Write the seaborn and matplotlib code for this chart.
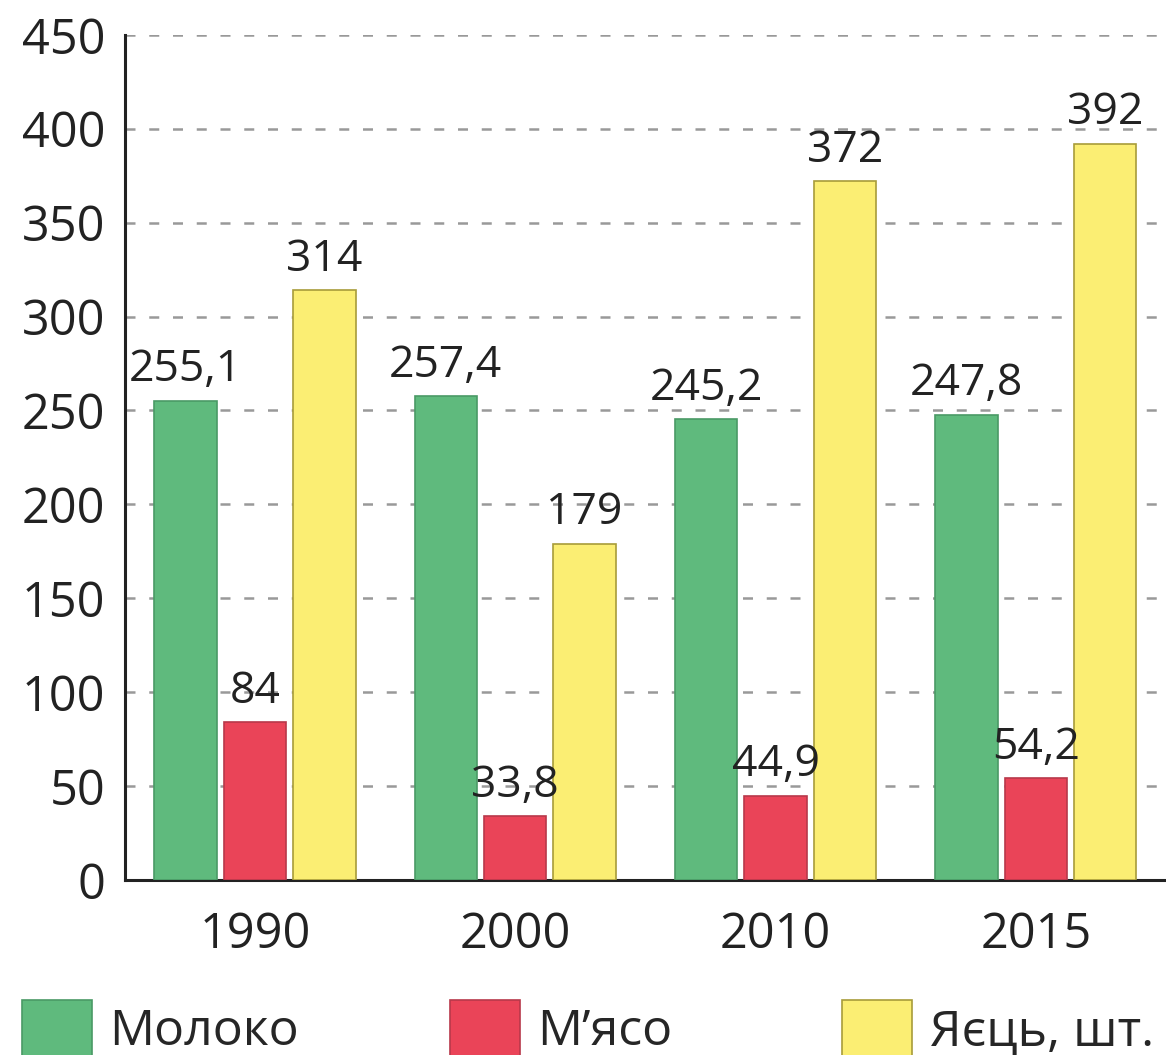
import seaborn as sns
import matplotlib.pyplot as plt
import pandas as pd

# values
years = ['1990', '2000', '2010', '2015']
products = ['Молоко', 'М’ясо', 'Яєць, шт.']
milk = [255.1, 257.4, 245.2, 247.8]
meat = [84, 33.8, 44.9, 54.2]
eggs = [314, 179, 372, 392]

colors = ['#5fba7d', '#ea4458', '#fbee73']
edges = ['#4a9a66', '#b8384a', '#a89c3a']

df = pd.DataFrame({
    'year': years * 3,
    'product': [products[0]] * 4 + [products[1]] * 4 + [products[2]] * 4,
    'value': milk + meat + eggs,
})

sns.set_style('white')
plt.rcParams['font.family'] = ['Open Sans', 'DejaVu Sans']

fig = plt.figure(figsize=(11.66, 10.55), dpi=100)
ax = fig.add_axes([0.107, 0.166, 0.893, 0.801])

sns.barplot(data=df, x='year', y='value', hue='product', hue_order=products,
            palette=colors, saturation=1, width=0.8, gap=0.1, ax=ax,
            legend=False, zorder=3)

for cont, ec in zip(ax.containers, edges):
    for bar in cont:
        bar.set_edgecolor(ec)
        bar.set_linewidth(1.2)
    labels = [f'{b.get_height():g}'.replace('.', ',') for b in cont]
    ax.bar_label(cont, labels=labels, padding=6, fontsize=32, color='#222222')

ax.set_ylim(0, 450)
ax.set_xlim(-0.5, 3.5)
ax.set_yticks(range(0, 451, 50))
ax.yaxis.grid(True, color='#999999', linestyle=(0, (4, 5.5)), linewidth=1.8, zorder=0)
ax.set_axisbelow(True)

ax.set_xlabel('')
ax.set_ylabel('')
ax.tick_params(axis='both', labelsize=35, length=0, colors='#222222')
ax.tick_params(axis='y', pad=14)
ax.tick_params(axis='x', pad=22)
ax.set_xticks([0.5, 1.5, 2.5], minor=True)
ax.tick_params(axis='x', which='minor', direction='in', length=14, width=2, color='#222222')

sns.despine(ax=ax)
for s in ['left', 'bottom']:
    ax.spines[s].set_linewidth(2.2)
    ax.spines[s].set_color('#222222')

# one legend per entry, placed like the original
lefts = [22 / 1166, 450 / 1166, 842 / 1166]
for lab, c, e, x0 in zip(products, colors, edges, lefts):
    h = plt.Rectangle((0, 0), 1, 1, facecolor=c, edgecolor=e, linewidth=1.2)
    fig.legend([h], [lab], loc='center left', bbox_to_anchor=(x0, 0.025),
               frameon=False, fontsize=36, handlelength=1.4, handleheight=1.4,
               handletextpad=0.35, borderpad=0, borderaxespad=0)

fig.savefig('out.png', dpi=100)
